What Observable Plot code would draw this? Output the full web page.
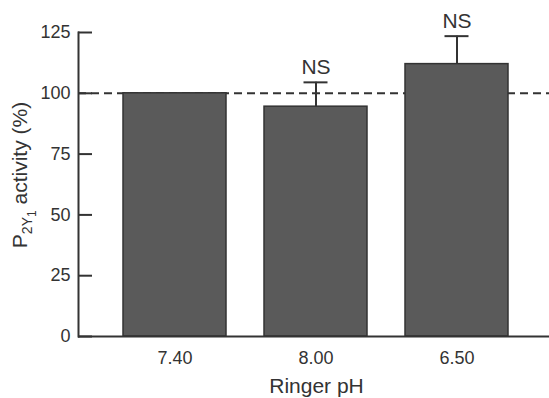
<!DOCTYPE html>
<html>
<head>
<meta charset="utf-8">
<script src="https://cdn.jsdelivr.net/npm/d3@7"></script>
<script src="https://cdn.jsdelivr.net/npm/@observablehq/plot@0.6"></script>
<style>
  html, body { margin: 0; padding: 0; background: #fff; }
  #chart svg { display: block; }
</style>
</head>
<body>
<div id="chart"></div>
<script>
const categories = ["7.40", "8.00", "6.50"];
const values = [100, 94.5, 112];
const errors = [null, 10, 11.5];
const notes = ["", "NS", "NS"];
const yTicks = [0, 25, 50, 75, 100, 125];
const referenceLevel = 100;
const xTitle = "Ringer pH";

const data = categories.map((c, i) => ({cat: c, value: values[i], err: errors[i], note: notes[i]}));
const withErr = data.filter(d => d.err != null);

const W = 549, H = 398;
const mL = 78, mT = 32, mB = 62;
const ink = "#333";
const font = "'Liberation Sans', Arial, Helvetica, sans-serif";

const plot = Plot.plot({
  width: W,
  height: H,
  marginLeft: mL,
  marginRight: 0,
  marginTop: mT,
  marginBottom: mB,
  style: {fontFamily: font, color: ink, background: "#fff", overflow: "visible"},
  x: {domain: categories, range: [mL, 553], paddingInner: 0.272, paddingOuter: 0.316, label: null},
  y: {domain: [0, 125], label: null},
  marks: [
    Plot.ruleY([referenceLevel], {stroke: ink, strokeWidth: 2, strokeDasharray: "8,5"}),
    Plot.barY(data, {x: "cat", y: "value", fill: "#5a5a5a", stroke: "#333", strokeWidth: 1.5}),
    Plot.ruleX(withErr, {x: "cat", y1: "value", y2: d => d.value + d.err, stroke: ink, strokeWidth: 2}),
    Plot.tickY(withErr, {x: "cat", y: d => d.value + d.err, stroke: ink, strokeWidth: 2, insetLeft: 39.5, insetRight: 39.5}),
    Plot.text(withErr, {x: "cat", y: d => d.value + d.err, text: "note", dy: -15, fontSize: 21, fill: ink, lineAnchor: "middle"}),
    Plot.ruleY(yTicks, {stroke: ink, strokeWidth: 2, insetRight: W - mL - 14}),
    Plot.ruleY([0], {stroke: ink, strokeWidth: 2}),
    Plot.axisY({ticks: yTicks, tickSize: 0, tickPadding: 8, fontSize: 18, label: null}),
    Plot.axisX({tickSize: 0, tickPadding: 15, fontSize: 18, label: null}),
    Plot.frame({anchor: "left", stroke: ink, strokeWidth: 2})
  ]
});

document.getElementById("chart").appendChild(plot);

const svg = d3.select(plot);
// x title
svg.append("text")
  .attr("x", (mL + 553) / 2 + 1)
  .attr("y", 393)
  .attr("text-anchor", "middle")
  .attr("font-family", font)
  .attr("font-size", 21)
  .attr("fill", ink)
  .text(xTitle);

// y title with subscripts
const yt = svg.append("text")
  .attr("transform", "translate(27,175) rotate(-90)")
  .attr("text-anchor", "middle")
  .attr("font-family", font)
  .attr("font-size", 21)
  .attr("fill", ink);
yt.append("tspan").text("P");
yt.append("tspan").attr("font-size", 14).attr("dy", 5).text("2Y");
yt.append("tspan").attr("font-size", 12).attr("dy", 4).text("1");
yt.append("tspan").attr("dy", -9).text(" activity (%)");
</script>
</body>
</html>
